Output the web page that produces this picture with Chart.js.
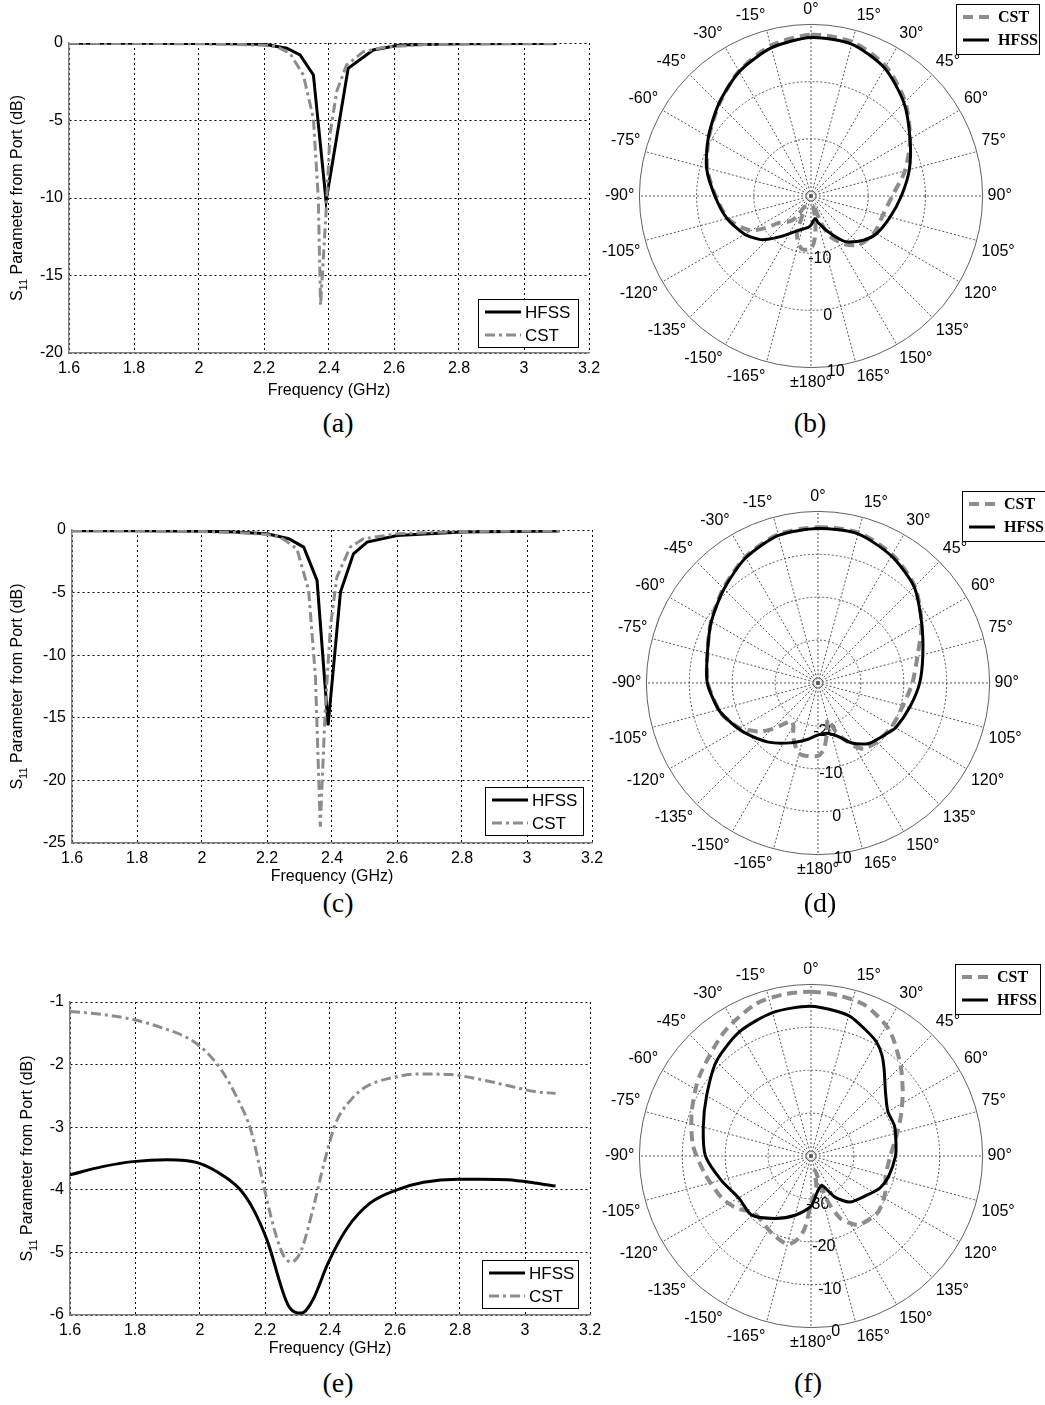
<!DOCTYPE html>
<html>
<head>
<meta charset="utf-8">
<title>S11 and radiation patterns</title>
<script src="https://cdn.jsdelivr.net/npm/chart.js@4.4.1/dist/chart.umd.min.js"></script>
<style>
  body { margin: 0; background: #fff; }
  #page { position: relative; width: 1045px; height: 1405px; overflow: hidden; background: #fff; }
  canvas { position: absolute; }
  .cap { position: absolute; width: 80px; margin-left: -40px; text-align: center;
         font: 28px "Liberation Serif", "Times New Roman", serif; color: #000; }
</style>
</head>
<body>
<div id="page">
  <canvas id="chartA" width="610" height="400" style="left:0;top:0"></canvas>
  <canvas id="chartB" width="445" height="418" style="left:600px;top:-13px"></canvas>
  <canvas id="chartC" width="615" height="399" style="left:0;top:487px"></canvas>
  <canvas id="chartD" width="438" height="418" style="left:607px;top:474px"></canvas>
  <canvas id="chartE" width="610" height="398" style="left:0;top:960px"></canvas>
  <canvas id="chartF" width="445" height="418" style="left:600px;top:947px"></canvas>
  <div class="cap" style="left:338px;top:407px">(a)</div>
  <div class="cap" style="left:810px;top:407px">(b)</div>
  <div class="cap" style="left:338px;top:887px">(c)</div>
  <div class="cap" style="left:820px;top:887px">(d)</div>
  <div class="cap" style="left:338px;top:1367px">(e)</div>
  <div class="cap" style="left:808px;top:1367px">(f)</div>
</div>
<script>
const SANS = '"Liberation Sans", Arial, sans-serif';
const SERIF = '"Liberation Serif", "Times New Roman", serif';
const GRAY = '#8c8c8c';

Chart.defaults.font.family = SANS;
Chart.defaults.color = '#000';
Chart.defaults.animation = false;

// ---- S11 plots: frequency (GHz) / dB ----
const freqTicks = [1.6, 1.8, 2.0, 2.2, 2.4, 2.6, 2.8, 3.0, 3.2];
const freqLabels = ['1.6', '1.8', '2', '2.2', '2.4', '2.6', '2.8', '3', '3.2'];

// (a)
const aHfssFreq = [1.6, 1.8, 2.0, 2.1, 2.2, 2.27, 2.311, 2.352, 2.391, 2.459, 2.536, 2.618, 2.8, 3.0, 3.1];
const aHfssDb = [-0.02, -0.02, -0.03, -0.05, -0.08, -0.34, -0.77, -2.06, -10.2, -1.63, -0.45, -0.13, -0.05, -0.03, -0.03];
const aCstFreq = [1.6, 1.8, 2.0, 2.1, 2.2, 2.239, 2.28, 2.321, 2.352, 2.367, 2.374, 2.391, 2.403, 2.424, 2.454, 2.506, 2.578, 2.7, 2.9, 3.1];
const aCstDb = [-0.02, -0.03, -0.05, -0.08, -0.15, -0.24, -0.67, -2.06, -4.86, -10.0, -16.9, -10.9, -5.9, -3.1, -1.42, -0.56, -0.24, -0.1, -0.05, -0.04];
const aYTicks = [-20, -15, -10, -5, 0];
const aYLabels = ['-20', '-15', '-10', '-5', '0'];

// (c)
const cHfssFreq = [1.6, 1.8, 2.0, 2.1, 2.2, 2.267, 2.313, 2.354, 2.388, 2.426, 2.466, 2.508, 2.6, 2.8, 3.1];
const cHfssDb = [-0.05, -0.05, -0.1, -0.15, -0.3, -0.7, -1.37, -4.03, -15.6, -4.96, -1.9, -0.97, -0.44, -0.15, -0.08];
const cCstFreq = [1.6, 1.8, 2.0, 2.1, 2.2, 2.241, 2.292, 2.328, 2.349, 2.364, 2.379, 2.395, 2.415, 2.456, 2.497, 2.6, 2.8, 3.1];
const cCstDb = [-0.05, -0.07, -0.12, -0.2, -0.35, -0.57, -1.5, -4.8, -11.7, -23.7, -14.4, -7.75, -3.76, -1.37, -0.7, -0.3, -0.12, -0.07];
const cYTicks = [-25, -20, -15, -10, -5, 0];
const cYLabels = ['-25', '-20', '-15', '-10', '-5', '0'];

// (e)
const eHfssFreq = [1.6, 1.7, 1.794, 1.9, 1.994, 2.076, 2.124, 2.165, 2.206, 2.271, 2.312, 2.347, 2.394, 2.453, 2.524, 2.606, 2.688, 2.794, 2.865, 2.947, 3.029, 3.094];
const eHfssDb = [-3.76, -3.63, -3.55, -3.52, -3.57, -3.79, -4.0, -4.32, -4.80, -5.84, -5.97, -5.76, -5.17, -4.61, -4.21, -4.0, -3.88, -3.83, -3.83, -3.84, -3.89, -3.94];
const eCstFreq = [1.6, 1.7, 1.794, 1.888, 1.971, 2.018, 2.065, 2.112, 2.159, 2.194, 2.229, 2.259, 2.282, 2.312, 2.347, 2.382, 2.418, 2.465, 2.512, 2.582, 2.676, 2.771, 2.865, 2.959, 3.029, 3.094];
const eCstDb = [-1.15, -1.20, -1.28, -1.42, -1.60, -1.79, -2.08, -2.51, -3.09, -3.89, -4.64, -5.07, -5.15, -4.96, -4.32, -3.57, -2.93, -2.56, -2.35, -2.22, -2.15, -2.16, -2.24, -2.35, -2.43, -2.46];
const eYTicks = [-6, -5, -4, -3, -2, -1];
const eYLabels = ['-6', '-5', '-4', '-3', '-2', '-1'];

// ---- polar patterns: angle (deg, clockwise from top) / dB ----
const angleLabels = ['0°', '15°', '30°', '45°', '60°', '75°', '90°', '105°', '120°', '135°', '150°', '165°',
  '±180°', '-165°', '-150°', '-135°', '-120°', '-105°', '-90°', '-75°', '-60°', '-45°', '-30°', '-15°'];

// (b)
const bHfssAng = [0, 15, 30, 45, 60, 75, 90, 105, 120, 130, 140, 145, 155, 165, 170, 180, 185, 200, 215, 225, 230, 240, 255, 270, 285, 300, 315, 330, 345];
const bHfssDb = [7.7, 7.5, 5.8, 3.0, 0.0, -2.2, -4.2, -5.7, -6.8, -8.0, -9.5, -10.5, -13.2, -15.2, -16.0, -14.9, -14.5, -13.6, -11.5, -9.3, -8.2, -6.6, -4.8, -3.2, -1.1, 0.7, 2.8, 5.1, 6.8];
const bCstAng = [0, 15, 30, 45, 60, 75, 90, 105, 120, 135, 145, 155, 160, 165, 170, 175, 180, 190, 200, 210, 215, 220, 230, 235, 240, 245, 255, 270, 285, 300, 315, 330, 345];
const bCstDb = [8.2, 7.9, 6.2, 3.3, 0.0, -3.0, -5.8, -7.0, -7.2, -8.0, -9.7, -12.3, -15.4, -18.5, -15.5, -12.5, -10.8, -10.6, -12.8, -17.8, -15.5, -14.2, -12.7, -10.2, -8.0, -6.8, -4.9, -3.3, -1.2, 0.6, 2.7, 5.2, 7.2];
const bRings = [-10, 0, 10];

// (d)
const dHfssAng = [0, 15, 30, 45, 60, 75, 90, 105, 120, 125, 140, 150, 160, 170, 180, 190, 205, 220, 235, 245, 255, 270, 285, 300, 315, 330, 345];
const dHfssDb = [6.0, 6.0, 4.2, 1.7, -2.1, -4.7, -6.3, -7.9, -9.1, -9.9, -11.6, -13.8, -16.8, -18.1, -17.9, -16.7, -14.6, -12.0, -9.5, -7.8, -6.0, -4.2, -3.3, -1.3, 1.0, 3.7, 5.6];
const dCstAng = [0, 15, 30, 45, 60, 75, 90, 105, 120, 135, 145, 150, 155, 160, 165, 170, 175, 180, 190, 195, 200, 205, 210, 215, 220, 225, 230, 240, 250, 255, 270, 285, 300, 315, 330, 345];
const dCstDb = [6.3, 6.3, 4.6, 1.9, -2.1, -6.0, -8.0, -9.5, -10.0, -10.6, -11.3, -13.0, -15.5, -18.0, -21.2, -18.0, -14.5, -13.0, -12.8, -13.0, -14.5, -16.3, -18.5, -19.2, -17.5, -14.8, -12.4, -9.0, -6.8, -6.0, -4.3, -3.3, -1.2, 1.2, 3.9, 5.9];
const dRings = [-20, -10, 0, 10];

// (f)
const fHfssAng = [0, 15, 25, 30, 35, 40, 50, 60, 70, 80, 90, 105, 115, 125, 140, 150, 160, 170, 180, 195, 210, 225, 240, 255, 270, 285, 300, 315, 330, 345];
const fHfssDb = [-5.1, -6.1, -8.3, -9.4, -11.2, -13.5, -17.3, -19.3, -19.3, -19.9, -20.3, -21.3, -22.3, -24.1, -26.0, -29.0, -32.7, -31.5, -28.3, -25.7, -23.2, -20.5, -20.5, -18.3, -15.4, -14.0, -11.9, -8.8, -6.6, -5.4];
const fCstAng = [0, 10, 20, 30, 35, 45, 55, 65, 75, 90, 105, 115, 130, 145, 150, 155, 160, 165, 170, 175, 180, 185, 190, 195, 205, 210, 225, 235, 245, 260, 275, 290, 305, 325, 340, 350];
const fCstDb = [-1.7, -2.0, -2.7, -4.9, -6.6, -10.4, -13.9, -16.8, -19.2, -21.5, -22.0, -20.8, -19.6, -20.4, -22.0, -24.0, -29.0, -36.5, -33.0, -31.0, -29.0, -23.0, -20.0, -18.7, -19.6, -20.2, -21.2, -18.8, -17.0, -15.0, -12.4, -10.4, -8.1, -4.7, -2.3, -1.8];
const fRings = [-30, -20, -10, 0];

// 5 degree grid for the radar scale, labelled every 15 degrees
const gridLabels = angleLabels.flatMap(t => [t, '', '']);

function toGrid(angles, values) {
  const out = new Array(gridLabels.length).fill(null);
  angles.forEach((a, i) => { out[a / 5] = values[i]; });
  return out;
}

// rotated "S11 Parameter from Port (dB)" with subscript
function sTitle(x) {
  return {
    id: 'sTitle',
    afterDraw(chart) {
      const { ctx, chartArea } = chart;
      const big = '16px ' + SANS, small = '11px ' + SANS;
      const rest = ' Parameter from Port (dB)';
      ctx.save();
      ctx.translate(x, (chartArea.top + chartArea.bottom) / 2);
      ctx.rotate(-Math.PI / 2);
      ctx.fillStyle = '#000';
      ctx.textBaseline = 'middle';
      ctx.font = big;
      const w1 = ctx.measureText('S').width, w3 = ctx.measureText(rest).width;
      ctx.font = small;
      const w2 = ctx.measureText('11').width;
      let p = -(w1 + w2 + w3) / 2;
      ctx.font = big; ctx.fillText('S', p, 0); p += w1;
      ctx.font = small; ctx.fillText('11', p, 6); p += w2;
      ctx.font = big; ctx.fillText(rest, p, 0);
      ctx.restore();
    }
  };
}

// boxed legend like the matlab one
function boxLegend(b) {
  return {
    id: 'boxLegend',
    afterDraw(chart) {
      const ctx = chart.ctx;
      ctx.save();
      ctx.fillStyle = '#fff';
      ctx.fillRect(b.x, b.y, b.w, b.h);
      ctx.strokeStyle = '#000';
      ctx.lineWidth = 1;
      ctx.strokeRect(b.x + 0.5, b.y + 0.5, b.w, b.h);
      ctx.font = b.font;
      ctx.textBaseline = 'middle';
      chart.data.datasets.forEach((ds, i) => {
        const y = b.y + b.row0 + i * b.gap;
        ctx.beginPath();
        ctx.strokeStyle = ds.borderColor;
        ctx.lineWidth = ds.borderWidth;
        ctx.setLineDash(ds.borderDash || []);
        ctx.moveTo(b.x + b.lineX, y);
        ctx.lineTo(b.x + b.lineX + b.lineW, y);
        ctx.stroke();
        ctx.setLineDash([]);
        ctx.fillStyle = '#000';
        ctx.fillText(ds.label, b.x + b.textX, y + 1);
      });
      ctx.restore();
    }
  };
}

// radial value labels, placed just off the 180 degree spoke
function ringText(values) {
  return {
    id: 'ringText',
    beforeDatasetsDraw(chart) {
      const s = chart.scales.r, ctx = chart.ctx;
      const a = 172 * Math.PI / 180;
      ctx.save();
      ctx.font = '16px ' + SANS;
      ctx.fillStyle = '#000';
      ctx.textAlign = 'center';
      ctx.textBaseline = 'middle';
      values.forEach(v => {
        const d = s.getDistanceFromCenterForValue(v) + 6;
        ctx.fillText(String(v), s.xCenter + d * Math.sin(a), s.yCenter - d * Math.cos(a));
      });
      ctx.restore();
    }
  };
}

function s11Chart(id, c) {
  const pts = (f, d) => f.map((x, i) => ({ x: x, y: d[i] }));
  const gridDots = { color: '#000', lineWidth: 1, drawTicks: false };
  const axisLine = { display: true, color: '#808080', width: 1.5, dash: [2, 3] };
  new Chart(document.getElementById(id), {
    type: 'line',
    data: {
      datasets: [
        { label: 'HFSS', data: pts(c.hfssF, c.hfssDb), borderColor: '#000', borderWidth: 3,
          pointRadius: 0, fill: false, order: 1, tension: c.tension, cubicInterpolationMode: c.mode },
        { label: 'CST', data: pts(c.cstF, c.cstDb), borderColor: GRAY, borderWidth: 3, borderDash: [10, 4, 3, 4],
          pointRadius: 0, fill: false, order: 0, tension: c.tension, cubicInterpolationMode: c.mode }
      ]
    },
    options: {
      responsive: false,
      animation: false,
      layout: { padding: { left: 0, top: c.top, right: c.right, bottom: 0 } },
      plugins: { legend: { display: false }, tooltip: { enabled: false } },
      scales: {
        x: {
          type: 'linear', min: 1.6, max: 3.2,
          afterBuildTicks: s => { s.ticks = freqTicks.map(v => ({ value: v })); },
          afterFit: s => { s.height = c.xh; },
          ticks: { callback: (v, i) => freqLabels[i], font: { size: 16 }, padding: 6, maxRotation: 0, autoSkip: false },
          grid: gridDots,
          border: axisLine,
          title: { display: true, text: 'Frequency (GHz)', font: { size: 16 }, padding: { top: 0, bottom: 0 } }
        },
        y: {
          type: 'linear', min: c.yTicks[0], max: c.yTicks[c.yTicks.length - 1],
          afterBuildTicks: s => { s.ticks = c.yTicks.map(v => ({ value: v })); },
          afterFit: s => { s.width = c.yw; },
          ticks: { callback: (v, i) => c.yLabels[i], font: { size: 16 }, padding: 6, autoSkip: false },
          grid: gridDots,
          border: axisLine
        }
      }
    },
    plugins: [sTitle(c.titleX), boxLegend(c.legend)]
  });
}

function polarChart(id, c) {
  const rMax = c.max;
  new Chart(document.getElementById(id), {
    type: 'radar',
    data: {
      labels: gridLabels,
      datasets: [
        { label: 'CST', data: toGrid(c.cstAng, c.cstDb), borderColor: GRAY, borderWidth: 4, borderDash: [10, 6],
          pointRadius: 0, fill: false, spanGaps: true, tension: 0.25, order: 1 },
        { label: 'HFSS', data: toGrid(c.hfssAng, c.hfssDb), borderColor: '#000', borderWidth: 3,
          pointRadius: 0, fill: false, spanGaps: true, tension: 0.25, order: 0 }
      ]
    },
    options: {
      responsive: false,
      animation: false,
      layout: { padding: { right: c.padRight } },
      plugins: { legend: { display: false }, tooltip: { enabled: false } },
      scales: {
        r: {
          min: c.min, max: rMax, startAngle: 0,
          ticks: { display: false, stepSize: 10 },
          grid: { circular: true, lineWidth: 1, color: ctx => (ctx.tick && ctx.tick.value === rMax ? '#606060' : '#555') },
          border: { dash: ctx => (ctx.tick && ctx.tick.value === rMax ? [] : [2, 2]) },
          angleLines: { color: '#555', borderDash: [2, 2], lineWidth: ctx => (ctx.index % 3 === 0 ? 1 : 0) },
          pointLabels: { font: { size: 16 }, color: '#000', padding: 5 }
        }
      }
    },
    plugins: [ringText(c.rings), boxLegend(c.legend)]
  });
}

const lineLegend = { font: '17px ' + SANS, row0: 13, gap: 23, lineX: 7, lineW: 36, textX: 47, h: 48 };
const polarLegend = { font: 'bold 16px ' + SERIF, row0: 13, gap: 23, lineX: 7, lineW: 26, textX: 42, h: 50 };

s11Chart('chartA', {
  hfssF: aHfssFreq, hfssDb: aHfssDb, cstF: aCstFreq, cstDb: aCstDb, yTicks: aYTicks, yLabels: aYLabels,
  top: 43, right: 21, xh: 47, yw: 69, titleX: 18, tension: 0,
  legend: Object.assign({ x: 478, y: 299, w: 100 }, lineLegend)
});
s11Chart('chartC', {
  hfssF: cHfssFreq, hfssDb: cHfssDb, cstF: cCstFreq, cstDb: cCstDb, yTicks: cYTicks, yLabels: cYLabels,
  top: 43, right: 23, xh: 43, yw: 72, titleX: 18, tension: 0,
  legend: Object.assign({ x: 485, y: 300, w: 98 }, lineLegend)
});
s11Chart('chartE', {
  hfssF: eHfssFreq, hfssDb: eHfssDb, cstF: eCstFreq, cstDb: eCstDb, yTicks: eYTicks, yLabels: eYLabels,
  top: 42, right: 20, xh: 43, yw: 70, titleX: 28, tension: 0, mode: 'monotone',
  legend: Object.assign({ x: 482, y: 300, w: 96 }, lineLegend)
});

polarChart('chartB', {
  hfssAng: bHfssAng, hfssDb: bHfssDb, cstAng: bCstAng, cstDb: bCstDb, min: -20, max: 10, rings: bRings,
  padRight: 27, legend: Object.assign({ x: 356, y: 17, w: 83 }, polarLegend)
});
polarChart('chartD', {
  hfssAng: dHfssAng, hfssDb: dHfssDb, cstAng: dCstAng, cstDb: dCstDb, min: -30, max: 10, rings: dRings,
  padRight: 20, legend: Object.assign({ x: 355, y: 17, w: 83 }, polarLegend)
});
polarChart('chartF', {
  hfssAng: fHfssAng, hfssDb: fHfssDb, cstAng: fCstAng, cstDb: fCstDb, min: -40, max: 0, rings: fRings,
  padRight: 27, legend: Object.assign({ x: 355, y: 17, w: 85 }, polarLegend)
});
</script>
</body>
</html>
